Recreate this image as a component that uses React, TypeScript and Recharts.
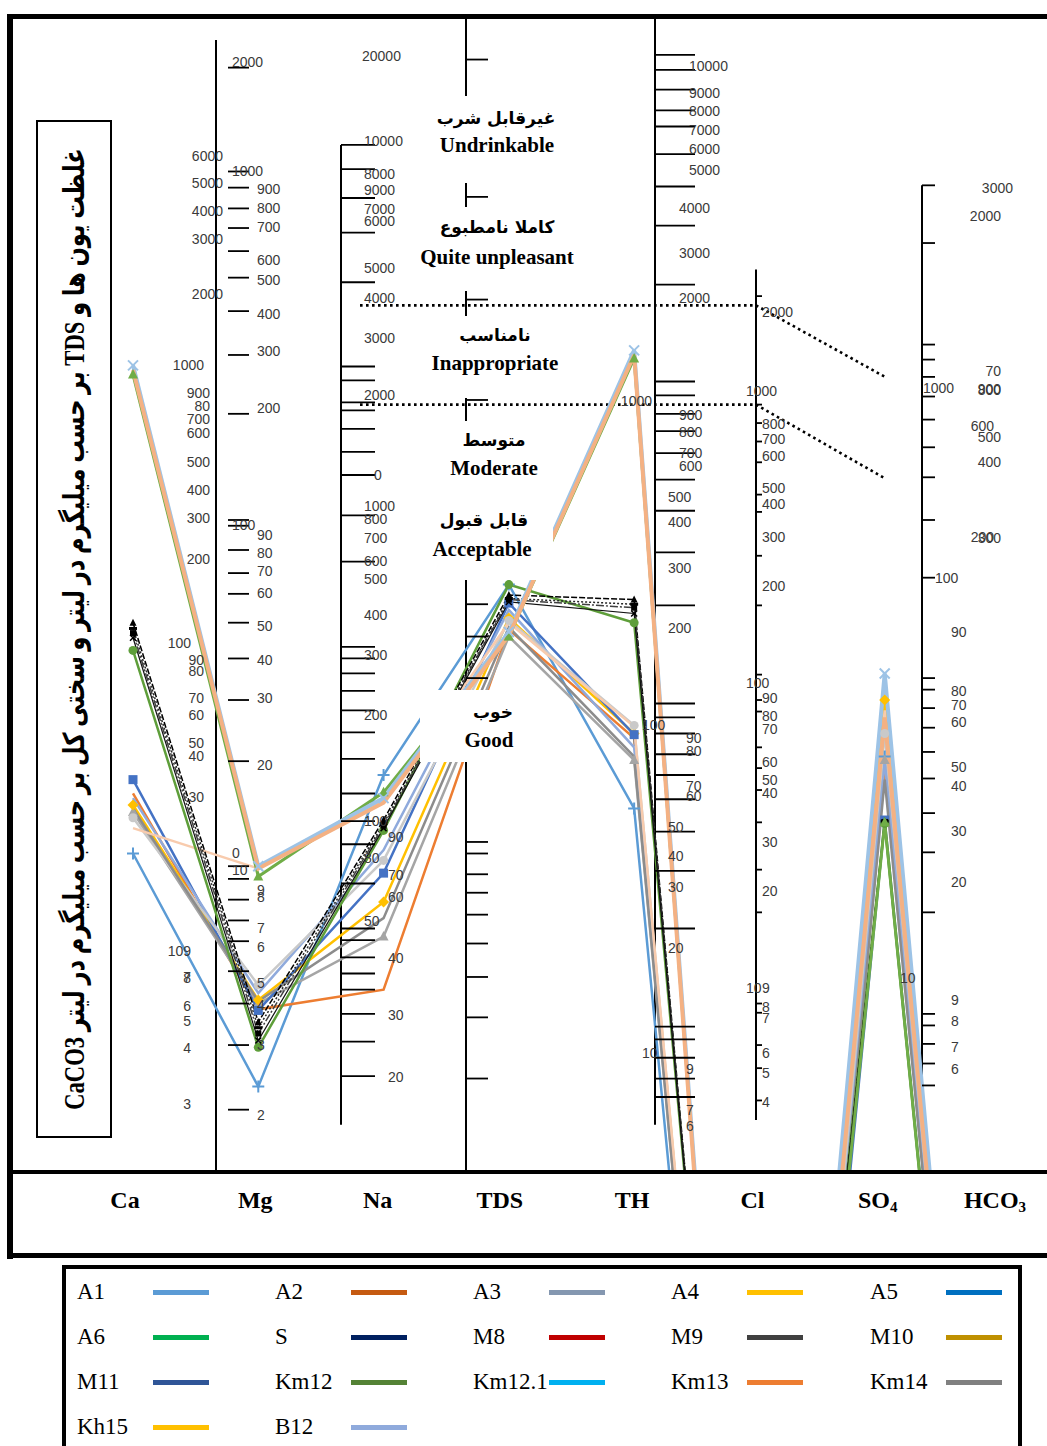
import React from "react";
import { LineChart, Line, XAxis, YAxis } from "recharts";

const IONS = ["Ca", "Mg", "Na", "TDS", "TH", "Cl", "SO4", "HCO3"];

// height of each sample on the diagram, in % of the plot (0 = bottom, 100 = top)
// Cl and HCO3 sit below the frame, so those segments leave through the bottom
const A1 = [27.6, 7.4, 34.4, 50.9, 31.5, -81, 36.0, -78];
const A2 = [32.8, 14.1, 15.8, 47.0, 37.6, -80, 35.0, -78];
const A3 = [31.2, 14.6, 20.4, 46.4, 35.7, -80, 35.7, -78];
const A4 = [31.8, 14.9, 23.4, 48.0, 38.0, -79, 40.9, -78];
const A5 = [34.0, 14.0, 25.9, 49.3, 37.9, -80, 30.5, -79];
const A6 = [69.1, 25.6, 32.9, 46.4, 70.5, -76, 30.3, -79];
const S = [47.6, 13.0, 30.5, 50.0, 49.6, -72, 30.4, -79];
const M8 = [47.1, 12.5, 30.2, 49.7, 49.2, -72, 30.4, -79];
const M9 = [46.7, 12.0, 30.0, 49.6, 48.9, -72, 30.3, -79];
const M10 = [46.3, 11.4, 29.8, 49.4, 48.4, -72, 30.3, -79];
const M11 = [32.4, 15.5, 27.9, 48.7, 36.8, -80, 35.7, -78];
const KM12 = [45.2, 10.8, 29.6, 50.9, 47.6, -71, 30.2, -79];
const KM12_1 = [69.5, 26.3, 32.0, 46.5, 70.8, -77, 39.4, -78];
const KM13 = [30.7, 16.2, 27.0, 47.8, 38.7, -80, 38.0, -78];
const KM14 = [31.5, 14.8, 22.0, 47.2, 36.0, -80, 34.0, -78];
const KH15 = [29.8, 26.3, 32.2, 47.6, 38.6, -79, 40.0, -78];
const B12 = [69.9, 26.5, 32.4, 46.8, 71.2, -76, 43.2, -77];

const SAMPLES = ["A1", "A2", "A3", "A4", "A5", "A6", "S", "M8", "M9", "M10", "M11", "Km12", "Km12.1", "Km13", "Km14", "Kh15", "B12"];
const VALUES = [A1, A2, A3, A4, A5, A6, S, M8, M9, M10, M11, KM12, KM12_1, KM13, KM14, KH15, B12];
const LEGEND_COLORS = ["#5B9BD5", "#C55A11", "#8497B0", "#FFC000", "#0070C0", "#00B050", "#002060", "#C00000", "#404040", "#BF9000", "#2F5597", "#548235", "#00B0F0", "#ED7D31", "#808080", "#FFC000", "#8FAADC"];
const LINE_COLORS = ["#5B9BD5", "#ED7D31", "#A5A5A5", "#FFC000", "#4472C4", "#70AD47", "#000000", "#262626", "#404040", "#111111", "#8FAADC", "#5E9E3A", "#F4B183", "#C9C9C9", "#8C8C8C", "#F8CBAD", "#9DC3E6"];

// line look per sample: width, dash, marker
const LINE_STYLE: Record<string, { w: number; dash?: string; marker: string }> = {
  A1: { w: 2.5, marker: "plus" },
  A2: { w: 2.5, marker: "none" },
  A3: { w: 2.5, marker: "triangle" },
  A4: { w: 2.5, marker: "diamond" },
  A5: { w: 2.5, marker: "square" },
  A6: { w: 3, marker: "triangle" },
  S: { w: 1.5, dash: "6 2", marker: "tri-s" },
  M8: { w: 1.5, dash: "2 2", marker: "dash" },
  M9: { w: 1.5, dash: "8 2 2 2", marker: "sq-s" },
  M10: { w: 1.2, marker: "cross-s" },
  M11: { w: 2.5, marker: "none" },
  Km12: { w: 2.5, marker: "circle" },
  "Km12.1": { w: 4, marker: "none" },
  Km13: { w: 2.5, marker: "circle" },
  Km14: { w: 2.5, marker: "none" },
  Kh15: { w: 2.5, marker: "none" },
  B12: { w: 4, marker: "cross" },
};
const DRAW_ORDER = ["A1", "A2", "A3", "A4", "A5", "M11", "Km13", "Km14", "Kh15", "Km12", "S", "M8", "M9", "M10", "A6", "B12", "Km12.1"];

// printed scales beside each column (tick heights in the same % units)
const MG_MARKS = [95.7, 86.7, 85.3, 83.5, 81.8, 79.8, 77.5, 74.6, 70.8, 65.7, 56.5, 56.0, 53.9, 51.9, 50.1, 47.6, 44.5, 40.9, 35.6, 26.5, 25.4, 23.6, 21.8, 20.0, 17.4, 14.6, 11.0, 5.4];
const NA_MARKS = [89.0, 86.9, 84.4, 81.4, 77.1, 69.8, 68.6, 66.7, 66.0, 64.4, 62.4, 60.4, 56.9, 52.9, 45.5, 44.5, 43.2, 41.7, 40.0, 38.1, 35.8, 32.8, 30.4, 28.4, 25.0, 21.1, 20.1, 18.6, 17.2, 15.8, 13.7, 11.3, 8.3];
const TDS_MARKS = [96.4, 84.5, 75.6, 66.9, 49.2, 46.4, 42.8, 28.6, 27.6, 25.8, 24.2, 22.3, 19.8, 16.9, 13.4, 8.1];
const TH_MARKS = [96.8, 95.5, 93.8, 92.0, 90.6, 88.2, 85.4, 82.0, 76.9, 68.5, 67.3, 65.7, 64.2, 62.3, 60.0, 57.3, 53.7, 49.1, 40.6, 39.4, 38.0, 36.2, 34.4, 32.3, 29.5, 26.1, 21.1, 12.6, 11.5, 9.9, 8.1, 6.5];
const CL_MARKS = [75.9, 66.5, 64.9, 63.3, 61.5, 58.7, 57.2, 53.4, 49.1, 43.1, 40.9, 39.9, 36.8, 35.0, 33.1, 30.3, 26.2, 22.5, 14.6, 13.8, 11.0, 9.0, 6.2];
const HCO3_MARKS = [85.5, 80.5, 71.7, 70.4, 68.9, 67.2, 65.2, 62.8, 60.2, 56.5, 51.5, 42.8, 41.8, 40.2, 38.5, 36.4, 34.1, 31.1, 27.7, 22.5, 13.7, 12.7, 11.1, 9.4, 7.5];

type Lab = [string, number];
const CA_LABELS_A: Lab[] = [["6000", 88.0], ["5000", 85.7], ["4000", 83.3], ["3000", 80.8], ["2000", 76.1]];
const CA_LABELS_B: Lab[] = [["900", 67.5], ["80", 66.4], ["700", 65.2], ["600", 64.0], ["500", 61.5], ["400", 59.1], ["300", 56.7], ["200", 53.1]];
const CA_LABELS_C: Lab[] = [["1000", 69.9], ["90", 44.4], ["80", 43.4], ["70", 41.1], ["60", 39.6], ["50", 37.2], ["40", 36.0], ["30", 32.5]];
const CA_LABELS_D: Lab[] = [["100", 45.8], ["109", 19.1], ["7", 16.85], ["8", 16.8], ["6", 14.4], ["5", 13.1], ["4", 10.7], ["3", 5.9]];
const MG_LABELS_A: Lab[] = [["900", 85.2], ["800", 83.5], ["700", 81.9], ["600", 79.0], ["500", 77.3], ["400", 74.3], ["300", 71.1], ["200", 66.2], ["90", 55.2], ["80", 53.6], ["70", 52.1], ["60", 50.2], ["50", 47.3], ["40", 44.4], ["30", 41.1], ["20", 35.3], ["9", 24.4], ["8", 23.8], ["7", 21.1], ["6", 19.5], ["5", 16.4], ["4", 14.5], ["3", 11.0], ["2", 4.9]];
const MG_LABELS_B: Lab[] = [["2000", 96.2], ["1000", 86.7], ["100", 56.1], ["0", 27.6], ["10", 26.2]];
const NA_LABELS_A: Lab[] = [["10000", 89.3], ["8000", 86.5], ["9000", 85.1], ["7000", 83.4], ["6000", 82.4], ["5000", 78.3], ["4000", 75.7], ["3000", 72.3], ["2000", 67.3], ["1000", 57.7], ["800", 56.6], ["700", 54.9], ["600", 52.9], ["500", 51.4], ["400", 48.3], ["300", 44.8], ["200", 39.6], ["100", 30.4], ["80", 27.2], ["50", 21.7]];
const NA_LABELS_B: Lab[] = [["90", 29.0], ["70", 25.7], ["60", 23.8], ["40", 18.5], ["30", 13.6], ["20", 8.2]];
const NA_LABELS_C: Lab[] = [["0", 60.4]];
const TDS_LABELS: Lab[] = [["20000", 96.7]];
const TH_LABELS_A: Lab[] = [["10000", 95.8], ["9000", 93.5], ["8000", 91.9], ["7000", 90.3], ["6000", 88.6], ["5000", 86.8]];
const TH_LABELS_B: Lab[] = [["4000", 83.5], ["3000", 79.6], ["2000", 75.7], ["900", 65.6], ["800", 64.1], ["700", 62.3], ["600", 61.2]];
const TH_LABELS_C: Lab[] = [["500", 58.5], ["400", 56.3], ["300", 52.3], ["200", 47.1], ["50", 29.9], ["40", 27.4], ["30", 24.7], ["20", 19.4]];
const TH_LABELS_D: Lab[] = [["90", 37.6], ["80", 36.5], ["70", 33.4], ["60", 32.6], ["9", 8.9], ["7", 5.4], ["6", 4.0]];
const TH_LABELS_E: Lab[] = [["1000", 66.8]];
const TH_LABELS_F: Lab[] = [["100", 38.7], ["10", 10.3]];
const CL_LABELS_A: Lab[] = [["2000", 74.5], ["800", 64.8], ["700", 63.5], ["600", 62.0], ["500", 59.3], ["400", 57.9], ["300", 55.0], ["200", 50.8], ["90", 41.1], ["80", 39.5], ["70", 38.4], ["60", 35.5], ["50", 34.0], ["40", 32.8], ["30", 28.6], ["20", 24.3], ["9", 15.9], ["8", 14.3], ["7", 13.3], ["6", 10.3], ["5", 8.6], ["4", 6.1]];
const CL_LABELS_B: Lab[] = [["1000", 67.7], ["100", 42.4], ["10", 15.9]];
const HCO3_LABELS_A: Lab[] = [["3000", 85.3]];
const HCO3_LABELS_B: Lab[] = [["2000", 82.8], ["70", 69.4], ["900", 67.8], ["800", 67.75], ["500", 63.7], ["400", 61.5], ["300", 54.95]];
const HCO3_LABELS_G: Lab[] = [["600", 64.6], ["200", 55.0]];
const HCO3_LABELS_C: Lab[] = [["90", 46.8], ["80", 41.7], ["70", 40.5], ["60", 39.0], ["50", 35.1], ["40", 33.4], ["30", 29.5], ["20", 25.1], ["9", 14.9], ["8", 13.1], ["7", 10.8], ["6", 8.9]];
const HCO3_LABELS_D: Lab[] = [["1000", 67.9]];
const HCO3_LABELS_E: Lab[] = [["100", 51.5]];
const HCO3_LABELS_F: Lab[] = [["10", 16.8]];

const ZONES_FA = ["غیرقابل شرب", "کاملا نامطبوع", "نامناسب", "متوسط", "قابل قبول", "خوب"];
const ZONES_EN = ["Undrinkable", "Quite unpleasant", "Inappropriate", "Moderate", "Acceptable", "Good"];
const TITLE = "غلظت یون ها و TDS بر حسب میلیگرم در لیتر و سختی کل بر حسب میلیگرم در لیتر CaCO3";

// ---- layout ----
const ION_LABEL_DX = [-8, -3, -6, -9, -2, -7, -7, -15];
const MARK_AXES = [
  { id: "mgM", ticks: MG_MARKS, x: 228, len: 21 },
  { id: "naM", ticks: NA_MARKS, x: 341, len: 34 },
  { id: "tdsM", ticks: TDS_MARKS, x: 466, len: 22 },
  { id: "thM", ticks: TH_MARKS, x: 655, len: 40 },
  { id: "clM", ticks: CL_MARKS, x: 756, len: 6 },
  { id: "hcoM", ticks: HCO3_MARKS, x: 922, len: 13 },
];
const LABEL_AXES: { id: string; labels: Lab[]; x: number; anchor: "start" | "end" }[] = [
  { id: "caA", labels: CA_LABELS_A, x: 223, anchor: "end" },
  { id: "caB", labels: CA_LABELS_B, x: 210, anchor: "end" },
  { id: "caC", labels: CA_LABELS_C, x: 204, anchor: "end" },
  { id: "caD", labels: CA_LABELS_D, x: 191, anchor: "end" },
  { id: "mgA", labels: MG_LABELS_A, x: 257, anchor: "start" },
  { id: "mgB", labels: MG_LABELS_B, x: 232, anchor: "start" },
  { id: "naA", labels: NA_LABELS_A, x: 364, anchor: "start" },
  { id: "naB", labels: NA_LABELS_B, x: 388, anchor: "start" },
  { id: "naC", labels: NA_LABELS_C, x: 374, anchor: "start" },
  { id: "tdsL", labels: TDS_LABELS, x: 362, anchor: "start" },
  { id: "thA", labels: TH_LABELS_A, x: 689, anchor: "start" },
  { id: "thB", labels: TH_LABELS_B, x: 679, anchor: "start" },
  { id: "thC", labels: TH_LABELS_C, x: 668, anchor: "start" },
  { id: "thD", labels: TH_LABELS_D, x: 686, anchor: "start" },
  { id: "thE", labels: TH_LABELS_E, x: 652, anchor: "end" },
  { id: "thF", labels: TH_LABELS_F, x: 642, anchor: "start" },
  { id: "clA", labels: CL_LABELS_A, x: 762, anchor: "start" },
  { id: "clB", labels: CL_LABELS_B, x: 746, anchor: "start" },
  { id: "hcA", labels: HCO3_LABELS_A, x: 1013, anchor: "end" },
  { id: "hcB", labels: HCO3_LABELS_B, x: 1001, anchor: "end" },
  { id: "hcG", labels: HCO3_LABELS_G, x: 994, anchor: "end" },
  { id: "hcC", labels: HCO3_LABELS_C, x: 951, anchor: "start" },
  { id: "hcD", labels: HCO3_LABELS_D, x: 923, anchor: "start" },
  { id: "hcE", labels: HCO3_LABELS_E, x: 935, anchor: "start" },
  { id: "hcF", labels: HCO3_LABELS_F, x: 900, anchor: "start" },
];
// vertical scale lines and the dotted class boundaries, as x (page px) / y (% height) points
const AXIS_LINES = [
  [{ x: 216, y: 98.1 }, { x: 216, y: 0 }],
  [{ x: 341, y: 89.0 }, { x: 341, y: 4.1 }],
  [{ x: 466, y: 100 }, { x: 466, y: 0 }],
  [{ x: 655, y: 100 }, { x: 655, y: 4.1 }],
  [{ x: 756, y: 78.2 }, { x: 756, y: 4.5 }],
  [{ x: 922, y: 85.5 }, { x: 922, y: 4.9 }],
];
const DOTTED = [
  [{ x: 360, y: 75.1 }, { x: 756, y: 75.1 }, { x: 885, y: 68.9 }],
  [{ x: 360, y: 66.5 }, { x: 756, y: 66.5 }, { x: 885, y: 60.1 }],
];
const ZONE_BOX = [
  { l: 415, t: 96, w: 165, h: 87, fy: 118, ey: 145, fx: 496, ex: 497 },
  { l: 412, t: 207, w: 170, h: 84, fy: 227, ey: 257, fx: 497, ex: 497 },
  { l: 425, t: 316, w: 141, h: 82, fy: 335, ey: 363, fx: 495, ex: 495 },
  { l: 440, t: 421, w: 110, h: 78, fy: 440, ey: 468, fx: 494, ex: 494 },
  { l: 420, t: 498, w: 133, h: 82, fy: 520, ey: 549, fx: 484, ex: 482 },
  { l: 420, t: 690, w: 135, h: 72, fy: 712, ey: 740, fx: 493, ex: 489 },
];

const rows = IONS.map((ion, i) => {
  const r: Record<string, string | number> = { ion };
  VALUES.forEach((v, k) => (r[`v${k}`] = v[i]));
  return r;
});

const NUM_FONT = '"Liberation Sans", Arial, sans-serif';
const SERIF = '"Liberation Serif", "DejaVu Sans", serif';

function marker(shape: string, c: string, cx: number, cy: number, key: string) {
  switch (shape) {
    case "plus":
      return <path key={key} d={`M${cx - 6},${cy}H${cx + 6}M${cx},${cy - 6}V${cy + 6}`} stroke={c} strokeWidth={2} />;
    case "cross":
      return <path key={key} d={`M${cx - 5},${cy - 5}L${cx + 5},${cy + 5}M${cx - 5},${cy + 5}L${cx + 5},${cy - 5}`} stroke={c} strokeWidth={2} />;
    case "cross-s":
      return <path key={key} d={`M${cx - 3},${cy - 3}L${cx + 3},${cy + 3}M${cx - 3},${cy + 3}L${cx + 3},${cy - 3}`} stroke={c} strokeWidth={1.5} />;
    case "square":
      return <rect key={key} x={cx - 4.5} y={cy - 4.5} width={9} height={9} fill={c} />;
    case "sq-s":
      return <rect key={key} x={cx - 3} y={cy - 3} width={6} height={6} fill={c} />;
    case "diamond":
      return <path key={key} d={`M${cx},${cy - 5.5}L${cx + 5.5},${cy}L${cx},${cy + 5.5}L${cx - 5.5},${cy}Z`} fill={c} />;
    case "triangle":
      return <path key={key} d={`M${cx},${cy - 5.5}L${cx + 5},${cy + 4}L${cx - 5},${cy + 4}Z`} fill={c} />;
    case "tri-s":
      return <path key={key} d={`M${cx},${cy - 4}L${cx + 3.5},${cy + 3}L${cx - 3.5},${cy + 3}Z`} fill={c} />;
    case "circle":
      return <circle key={key} cx={cx} cy={cy} r={4.5} fill={c} />;
    case "dash":
      return <rect key={key} x={cx - 4} y={cy - 1.5} width={8} height={3} fill={c} />;
  }
  return <g key={key} />;
}

const markTick = (x0: number, len: number) => (p: any) => (
  <line x1={x0} x2={x0 + len} y1={p.y} y2={p.y} stroke="#000" strokeWidth={1.8} />
);

const labelTick = (labels: Lab[], x0: number, anchor: "start" | "end") => (p: any) => {
  const found = labels.find((l) => l[1] === p.payload.value);
  return (
    <text x={x0} y={p.y} dy="0.35em" textAnchor={anchor} fontSize={14} fontFamily={NUM_FONT} fill="#3a3a3a">
      {found ? found[0] : ""}
    </text>
  );
};

const ionTick = (p: any) => {
  const v = String(p.payload.value);
  const m = v.match(/^(\D+)(\d)$/);
  const dx = ION_LABEL_DX[IONS.indexOf(v)] ?? -7;
  return (
    <text x={p.x + dx} y={1208} textAnchor="middle" fontFamily={SERIF} fontWeight="bold" fontSize={24} fill="#000">
      {m ? (
        <>
          {m[1]}
          <tspan fontSize={15} dy={4}>{m[2]}</tspan>
        </>
      ) : (
        v
      )}
    </text>
  );
};

const LEGEND_COL_X = [77, 275, 473, 671, 870];
const LEGEND_ROW_Y = [1292, 1337, 1382, 1427];

export default function App() {
  return (
    <div style={{ position: "absolute", left: 0, top: 0, width: 1047, height: 1446, overflow: "hidden", background: "#fff" }}>
      <LineChart width={1047} height={1230} data={rows} margin={{ top: 18, right: 0, bottom: 0, left: 10 }} style={{ position: "absolute", left: 0, top: 0 }}>
        <XAxis xAxisId="cat" dataKey="ion" padding={{ left: 123, right: 37 }} height={58} axisLine={false} tickLine={false} tick={ionTick} interval={0} />
        <XAxis xAxisId="px" type="number" dataKey="x" domain={[10, 1047]} allowDataOverflow hide />
        <YAxis yAxisId="main" type="number" domain={[0, 100]} allowDataOverflow hide />
        {MARK_AXES.map((a) => (
          <YAxis key={a.id} yAxisId={a.id} type="number" domain={[0, 100]} allowDataOverflow mirror width={1} ticks={a.ticks} interval={0} axisLine={false} tickLine={false} tick={markTick(a.x, a.len)} />
        ))}
        {LABEL_AXES.map((a) => (
          <YAxis key={a.id} yAxisId={a.id} type="number" domain={[0, 100]} allowDataOverflow mirror width={1} ticks={a.labels.map((l) => l[1])} interval={0} axisLine={false} tickLine={false} tick={labelTick(a.labels, a.x, a.anchor)} />
        ))}
        {AXIS_LINES.map((seg, i) => (
          <Line key={`ax${i}`} xAxisId="px" yAxisId="main" data={seg} dataKey="y" stroke="#000" strokeWidth={2} dot={false} activeDot={false} isAnimationActive={false} />
        ))}
        {DOTTED.map((seg, i) => (
          <Line key={`dl${i}`} xAxisId="px" yAxisId="main" data={seg} dataKey="y" stroke="#000" strokeWidth={2.6} strokeDasharray="2.6 3.4" dot={false} activeDot={false} isAnimationActive={false} />
        ))}
        {DRAW_ORDER.map((name) => {
          const k = SAMPLES.indexOf(name);
          const st = LINE_STYLE[name];
          const color = LINE_COLORS[k];
          const dark = name === "S" || name === "M8" || name === "M9" || name === "M10";
          return (
            <Line
              key={name}
              xAxisId="cat"
              yAxisId="main"
              type="linear"
              dataKey={`v${k}`}
              name={name}
              stroke={color}
              strokeWidth={st.w}
              strokeDasharray={st.dash}
              dot={(p: any) =>
                p.value < 0 || p.cx == null ? <g key={`${name}-d${p.index}`} /> : marker(st.marker, dark ? "#000" : color, p.cx, p.cy, `${name}-d${p.index}`)
              }
              activeDot={false}
              isAnimationActive={false}
            />
          );
        })}
      </LineChart>

      {/* white text boxes for the TDS quality classes */}
      {ZONE_BOX.map((b, i) => (
        <React.Fragment key={`z${i}`}>
          <div style={{ position: "absolute", left: b.l, top: b.t, width: b.w, height: b.h, background: "#fff" }} />
          <div style={{ position: "absolute", left: b.fx, top: b.fy, transform: "translate(-50%, -50%)", whiteSpace: "nowrap", direction: "rtl", fontFamily: '"DejaVu Sans", sans-serif', fontWeight: "bold", fontSize: 17 }}>
            {ZONES_FA[i]}
          </div>
          <div style={{ position: "absolute", left: b.ex, top: b.ey, transform: "translate(-50%, -50%)", whiteSpace: "nowrap", fontFamily: SERIF, fontWeight: "bold", fontSize: 21 }}>
            {ZONES_EN[i]}
          </div>
        </React.Fragment>
      ))}

      {/* frame */}
      <div style={{ position: "absolute", left: 7, top: 14, width: 1040, height: 5, background: "#000" }} />
      <div style={{ position: "absolute", left: 7, top: 14, width: 6, height: 1245, background: "#000" }} />
      <div style={{ position: "absolute", left: 7, top: 1170, width: 1040, height: 4, background: "#000" }} />
      <div style={{ position: "absolute", left: 7, top: 1253, width: 1040, height: 5, background: "#000" }} />

      {/* vertical title */}
      <div style={{ position: "absolute", left: 36, top: 120, width: 76, height: 1018, border: "2px solid #000", boxSizing: "border-box", background: "#fff" }} />
      <div
        style={{
          position: "absolute",
          left: 74 - 509,
          top: 629 - 38,
          width: 1018,
          height: 76,
          transform: "rotate(-90deg) scaleX(0.78)",
          display: "flex",
          alignItems: "center",
          justifyContent: "center",
          direction: "rtl",
          whiteSpace: "nowrap",
          fontFamily: SERIF,
          fontWeight: "bold",
          fontSize: 29,
        }}
      >
        {TITLE}
      </div>

      {/* legend */}
      <div style={{ position: "absolute", left: 62, top: 1265, width: 960, height: 200, border: "4px solid #000", boxSizing: "border-box" }} />
      {SAMPLES.map((s, i) => {
        const col = i % 5;
        const row = Math.floor(i / 5);
        const x = LEGEND_COL_X[col];
        const y = LEGEND_ROW_Y[row];
        return (
          <React.Fragment key={`lg${s}`}>
            <div style={{ position: "absolute", left: x, top: y - 14, height: 28, lineHeight: "28px", fontFamily: SERIF, fontSize: 23, whiteSpace: "nowrap" }}>{s}</div>
            <div style={{ position: "absolute", left: x + 76, top: y - 2, width: 56, height: 5, background: LEGEND_COLORS[i] }} />
          </React.Fragment>
        );
      })}
    </div>
  );
}
